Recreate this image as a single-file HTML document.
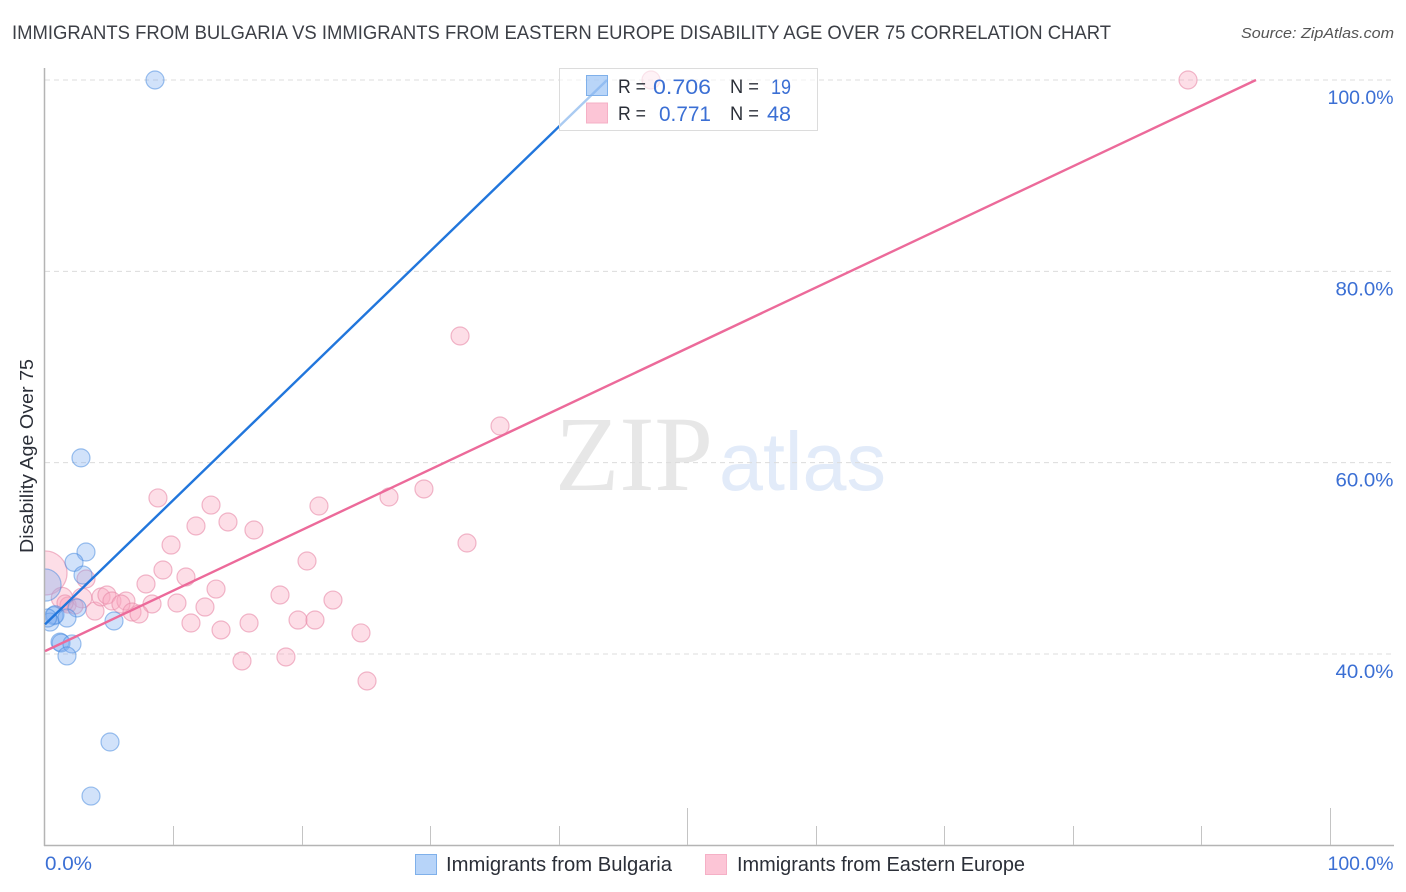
<!DOCTYPE html>
<html>
<head>
<meta charset="utf-8">
<title>Disability Age Over 75 Correlation Chart</title>
<style>
html,body{margin:0;padding:0;background:#fff;width:1406px;height:892px;overflow:hidden}
svg{display:block;font-family:"Liberation Sans",sans-serif}
</style>
</head>
<body>
<svg id="chart" width="1406" height="892" viewBox="0 0 1406 892" xmlns="http://www.w3.org/2000/svg">
  <defs><clipPath id="plot-clip"><rect x="45" y="60" width="1349" height="785"/></clipPath></defs>
  <text x="12" y="39" font-size="19" fill="#3c3f46" textLength="1099" lengthAdjust="spacingAndGlyphs">IMMIGRANTS FROM BULGARIA VS IMMIGRANTS FROM EASTERN EUROPE DISABILITY AGE OVER 75 CORRELATION CHART</text>
  <text x="1241" y="38" font-size="15" font-style="italic" fill="#555" textLength="153" lengthAdjust="spacingAndGlyphs">Source: ZipAtlas.com</text>
  <g>
    <text x="555" y="490" font-family="'Liberation Serif',serif" font-size="107" fill="#e7e7e7" textLength="158" lengthAdjust="spacingAndGlyphs">ZIP</text>
    <text x="719" y="490" font-size="83" fill="#e2ebf9" textLength="167" lengthAdjust="spacingAndGlyphs">atlas</text>
  </g>
  <g id="grid"></g>
  <g id="points" clip-path="url(#plot-clip)"></g>
  <rect x="0" y="60" width="44" height="785" fill="#fff"/>
  <g id="axes"></g>
  <g id="trends"></g>
  <g>
    <rect x="559.5" y="68.5" width="258" height="62" fill="#fff" fill-opacity="0.62" stroke="#dcdcdc" stroke-width="1"/>
    <rect x="586.5" y="75.5" width="21" height="20" fill="#7fb2f2" fill-opacity="0.55" stroke="#7fb0ea"/>
    <rect x="586.5" y="103" width="21" height="20" fill="#fcc5d6" stroke="#f5b0c6"/>
    <g font-size="19" fill="#2b2f38">
      <text x="618" y="93" textLength="28" lengthAdjust="spacingAndGlyphs">R =</text>
      <text x="730" y="93" textLength="29" lengthAdjust="spacingAndGlyphs">N =</text>
      <text x="618" y="120" textLength="28" lengthAdjust="spacingAndGlyphs">R =</text>
      <text x="730" y="120" textLength="29" lengthAdjust="spacingAndGlyphs">N =</text>
    </g>
    <g font-size="21" fill="#3b6fd4">
      <text x="653" y="94" textLength="58" lengthAdjust="spacingAndGlyphs">0.706</text>
      <text x="771" y="94" textLength="20" lengthAdjust="spacingAndGlyphs">19</text>
      <text x="659" y="121" textLength="52" lengthAdjust="spacingAndGlyphs">0.771</text>
      <text x="767" y="121" textLength="24" lengthAdjust="spacingAndGlyphs">48</text>
    </g>
  </g>
  <text transform="translate(33,456) rotate(-90)" text-anchor="middle" font-size="18.5" fill="#2b2f38" textLength="194" lengthAdjust="spacingAndGlyphs">Disability Age Over 75</text>
  <g>
    <rect x="415.5" y="854.5" width="21" height="20" fill="#b7d4f9" stroke="#7fb0ea"/>
    <text x="446" y="871" font-size="20" fill="#2b2f38" textLength="226" lengthAdjust="spacingAndGlyphs">Immigrants from Bulgaria</text>
    <rect x="705.5" y="854.5" width="21" height="20" fill="#fcc5d6" stroke="#f5b0c6"/>
    <text x="737" y="871" font-size="20" fill="#2b2f38" textLength="288" lengthAdjust="spacingAndGlyphs">Immigrants from Eastern Europe</text>
  </g>
</svg>
<script>
const yTickValues = [40, 60, 80, 100];
const yTickLabels = ["40.0%", "60.0%", "80.0%", "100.0%"];
const xTickValues = [0, 10, 20, 30, 40, 50, 60, 70, 80, 90, 100];
const xEndLabels = ["0.0%", "100.0%"];

const bulgariaX = [8.56, 2.8, 3.19, 2.26, 2.96, 0, 2.49, 0.70, 0.78, 0.39, 0.2, 1.71, 5.37, 1.17, 1.25, 2.1, 1.71, 5.06, 3.58];
const bulgariaY = [100, 60.5, 50.66, 49.58, 48.25, 47.21, 44.81, 44.0, 44.1, 43.34, 43.76, 43.76, 43.45, 41.25, 41.15, 41.05, 39.8, 30.8, 25.15];
const bulgariaWeight = [1, 1, 1, 1, 1, 3.2, 1, 1, 1, 1, 1, 1, 1, 1, 1, 1, 1, 1, 1];

const easternEuropeX = [47.16, 88.95, 32.3, 35.41, 8.79, 12.92, 21.32, 26.77, 29.49, 11.75, 14.24, 16.26, 9.81, 32.84, 20.39, 9.18, 3.19, 10.97, 7.86, 13.31, 18.29, 22.41, 8.33, 10.27, 12.45, 19.69, 21.01, 11.36, 15.88, 13.70, 24.59, 15.33, 18.75, 25.06, 0, 1.32, 2.88, 3.89, 4.36, 4.82, 5.21, 6.3, 5.91, 6.77, 7.32, 1.79, 2.33, 1.56];
const easternEuropeY = [100, 100, 73.24, 63.83, 56.31, 55.57, 55.47, 56.41, 57.25, 53.38, 53.80, 52.96, 51.39, 51.60, 49.72, 48.78, 47.84, 48.05, 47.32, 46.79, 46.17, 45.64, 45.23, 45.33, 44.91, 43.55, 43.55, 43.24, 43.24, 42.51, 42.2, 39.27, 39.69, 37.18, 48.47, 45.85, 45.85, 44.49, 45.96, 46.17, 45.54, 45.54, 45.23, 44.39, 44.18, 45.12, 45.02, 45.33];
const easternEuropeWeight = [1, 1, 1, 1, 1, 1, 1, 1, 1, 1, 1, 1, 1, 1, 1, 1, 1, 1, 1, 1, 1, 1, 1, 1, 1, 1, 1, 1, 1, 1, 1, 1, 1, 1, 6, 1.4, 1.2, 1, 1, 1, 1, 1, 1, 1, 1, 0.8, 0.8, 0.8];

const bulgariaTrendX = [0, 43.74];
const bulgariaTrendY = [43.1, 100];
const easternEuropeTrendX = [0, 94.24];
const easternEuropeTrendY = [40.3, 100];

const NS = "http://www.w3.org/2000/svg";
function xScale(v) { return 45 + v * 12.85; }
function yScale(v) { return 654 - (v - 40) * 9.567; }
function rScale(w) { return 9 * Math.sqrt(w); }
function labelWidth(s) { return s.length > 5 ? 66 : 58; }
function make(tag, attrs, parent) {
  const el = document.createElementNS(NS, tag);
  for (const k in attrs) el.setAttribute(k, attrs[k]);
  parent.appendChild(el);
  return el;
}

const grid = document.getElementById("grid");
const axes = document.getElementById("axes");
const points = document.getElementById("points");
const trends = document.getElementById("trends");

yTickValues.forEach(function (v, i) {
  const line = make("line", { x1: 45, x2: 1394, y1: yScale(v), y2: yScale(v), stroke: "#dcdcdc", "stroke-width": 1, "stroke-dasharray": "5 4" }, grid);
  
  
  const label = make("text", { x: 1393.5 - labelWidth(yTickLabels[i]), y: yScale(v) + 24, "font-size": 19.5, fill: "#3b6fd4", textLength: labelWidth(yTickLabels[i]), lengthAdjust: "spacingAndGlyphs" }, axes);
  
  
  label.textContent = yTickLabels[i];
});

const yAxis = make("line", { x1: 44.5, x2: 44.5, y1: 68, y2: 846, stroke: "#b4b4b4", "stroke-width": 1.5 }, axes);


const xAxis = make("line", { x1: 44, x2: 1394, y1: 845.5, y2: 845.5, stroke: "#b4b4b4", "stroke-width": 1.5 }, axes);



xTickValues.forEach(function (v) {
  if (v === 0) return;
  const top = (v === 50 || v === 100) ? 808 : 826;
  const tick = make("line", { x1: Math.floor(xScale(v)) + 0.5, x2: Math.floor(xScale(v)) + 0.5, y1: top, y2: 845, stroke: "#c4c4c4", "stroke-width": 1 }, axes);
  
  
});

const xStart = make("text", { x: xScale(0), y: 870, "font-size": 19.5, fill: "#3b6fd4", textLength: 47, lengthAdjust: "spacingAndGlyphs" }, axes);


xStart.textContent = xEndLabels[0];
const xEnd = make("text", { x: 1327.5, y: 870, "font-size": 19.5, fill: "#3b6fd4", textLength: 66, lengthAdjust: "spacingAndGlyphs" }, axes);


xEnd.textContent = xEndLabels[1];

easternEuropeX.forEach(function (v, i) {
  const c = make("circle", { cx: xScale(v), cy: yScale(easternEuropeY[i]), r: rScale(easternEuropeWeight[i]), fill: "#f9a8c0", "fill-opacity": 0.38, stroke: "#e88aa8", "stroke-opacity": 0.6, "stroke-width": 1.2 }, points);
  
  
});
bulgariaX.forEach(function (v, i) {
  const c = make("circle", { cx: xScale(v), cy: yScale(bulgariaY[i]), r: rScale(bulgariaWeight[i]), fill: "#7fb0f0", "fill-opacity": 0.36, stroke: "#3f86de", "stroke-opacity": 0.5, "stroke-width": 1.2 }, points);
  
  
});

const blueLine = make("line", { x1: xScale(bulgariaTrendX[0]), y1: yScale(bulgariaTrendY[0]), x2: xScale(bulgariaTrendX[1]), y2: yScale(bulgariaTrendY[1]), stroke: "#2176dc", "stroke-width": 2.4 }, trends);


const pinkLine = make("line", { x1: xScale(easternEuropeTrendX[0]), y1: yScale(easternEuropeTrendY[0]), x2: xScale(easternEuropeTrendX[1]), y2: yScale(easternEuropeTrendY[1]), stroke: "#ec6a9a", "stroke-width": 2.4 }, trends);


</script>
</body>
</html>
